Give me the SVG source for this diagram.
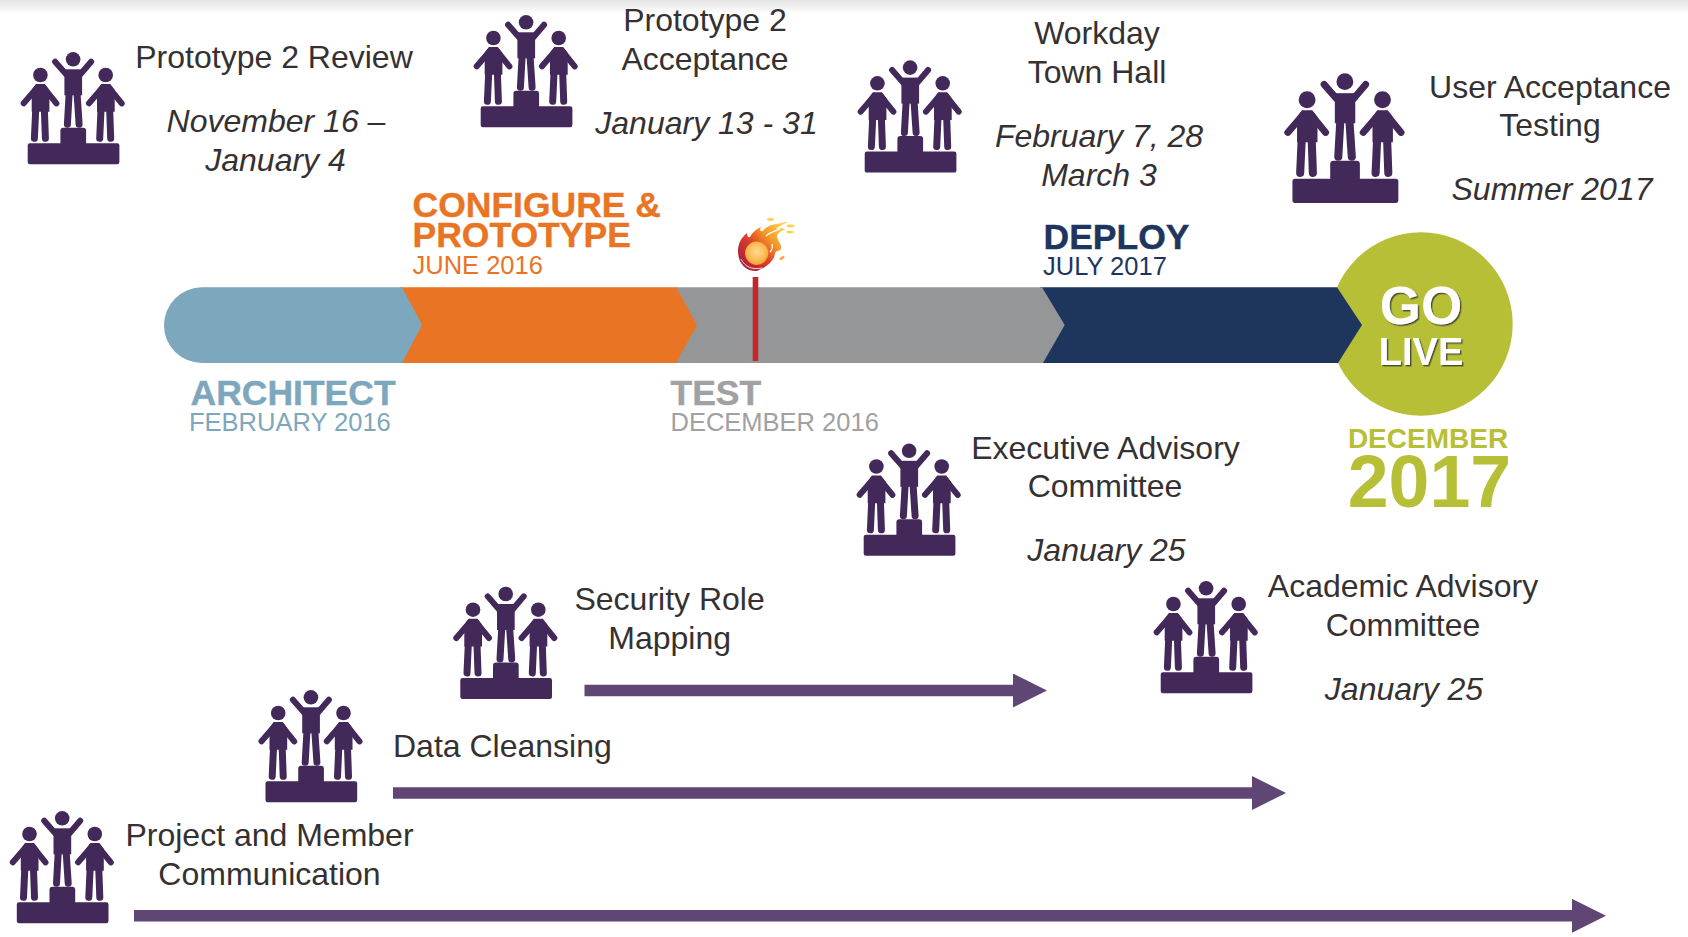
<svg xmlns="http://www.w3.org/2000/svg" width="1688" height="937" viewBox="0 0 1688 937">
<style>
text{font-family:"Liberation Sans",Arial,sans-serif}
.t{font-size:32px;fill:#353132;text-anchor:middle}
.i{font-style:italic}
.s{text-anchor:start}
.h{font-size:35.5px;font-weight:bold;stroke-width:.4px}
.d{font-size:25.5px}
.ic{fill:#43295a}
.ic line{stroke:#43295a;stroke-linecap:round;fill:none}
.go{fill:#fff;font-weight:bold;text-anchor:middle;filter:url(#sh)}
.ar{stroke:#5f4675;stroke-width:11.5;fill:none;marker-end:url(#head)}
</style>
<defs>
<linearGradient id="top" x1="0" y1="0" x2="0" y2="1"><stop offset="0" stop-color="#e4e4e4"/><stop offset="1" stop-color="#fff"/></linearGradient>
<linearGradient id="fl" x1="0.05" y1="0.9" x2="0.95" y2="0.1"><stop offset="0" stop-color="#a51b40"/><stop offset=".4" stop-color="#dc3f2a"/><stop offset=".65" stop-color="#f39325"/><stop offset="1" stop-color="#fcd64f"/></linearGradient>
<radialGradient id="ball" cx=".5" cy=".45" r=".55"><stop offset="0" stop-color="#ffdc90"/><stop offset=".7" stop-color="#fbb94f"/><stop offset="1" stop-color="#f29a2e"/></radialGradient>
<filter id="sh" x="-10%" y="-10%" width="125%" height="125%"><feDropShadow dx="1.4" dy="1.4" stdDeviation=".3" flood-color="#4d4d30"/></filter>
<marker id="head" markerUnits="userSpaceOnUse" markerWidth="34" markerHeight="34" viewBox="0 0 34 34" refX="0" refY="17" orient="auto"><path d="M0 0L34 17L0 34Z" fill="#5f4675"/></marker>
<g id="award" class="ic">
<rect x="7.3" y="91.3" width="91.7" height="21" rx="2.2"/>
<rect x="40" y="75.7" width="25.7" height="18" rx="3"/>
<circle cx="52.7" cy="7.3" r="7.3"/><circle cx="20" cy="23" r="7.3"/><circle cx="85.3" cy="23" r="7.3"/>
<g stroke-width="6">
<line x1="34.7" y1="9.7" x2="45.7" y2="22.3"/><line x1="70.7" y1="9.7" x2="60" y2="22.3"/>
<line x1="16.7" y1="35.7" x2="3.3" y2="51.3"/><line x1="23.3" y1="35.7" x2="36" y2="51.3"/>
<line x1="82" y1="35.7" x2="68.6" y2="51.3"/><line x1="88.6" y1="35.7" x2="101.3" y2="51.3"/>
</g>
<g stroke-width="7">
<line x1="48.7" y1="42" x2="47" y2="72.3"/><line x1="56.7" y1="42" x2="58.7" y2="72.3"/>
<line x1="15.3" y1="58" x2="14" y2="86.3"/><line x1="24" y1="58" x2="25" y2="86.3"/>
<line x1="80.6" y1="58" x2="79.3" y2="86.3"/><line x1="89.3" y1="58" x2="90.3" y2="86.3"/>
</g>
<path d="M44 17.3H61.7V43.3H44Z"/>
<path d="M15.5 32H24.5L29 38V59.7H11.3V38Z"/>
<path d="M80.8 32H89.8L94.3 38V59.7H76.6V38Z"/>
</g>
</defs>
<rect width="1688" height="14" fill="url(#top)"/>
<g id="timeline">
<circle cx="1421" cy="324" r="91.7" fill="#b7bf36"/>
<path id="phase-deploy" d="M1040 287.3H1337L1362 325L1338 363H1040Z" fill="#1e355e"/>
<path id="phase-test" d="M675 287.3H1042L1064.7 325L1043 363H675Z" fill="#959698"/>
<path id="phase-configure" d="M400 287.3H676L697 325L676 363H400Z" fill="#e97524"/>
<path id="phase-architect" d="M202 287.3H402L422 325L402 363H202A38 37.85 0 0 1 202 287.3Z" fill="#7da7bc"/>
<rect id="marker-line" x="752.7" y="277" width="5.6" height="84" fill="#c1272d"/>
<g id="fireball">
<path d="M757 271C745 271.5 738 263 738 251C738 243 742 237 747 233C747 236 748 238 750 237C752 233 756 229 761 227C759 231 761 232 763 231C766 227 770 225 776 224C782 223 785 222 788 221.5C784 225 778 226 776 229C780 228 783 228 786 229C781 231 777 233 777 237C779 243 782 245 781 249C778 252 777 250 775 253C775 258 770 266 757 271Z" fill="url(#fl)"/>
<path d="M741 259C745 267 752 270 762 268" stroke="#f7d9c9" stroke-width="1" fill="none"/>
<path d="M766 236C770 232 775 231 780 229M772 244C773 248 772 250 770 252" stroke="#fff" stroke-width="1.3" fill="none"/>
<circle cx="756.7" cy="253.2" r="11.7" fill="url(#ball)"/>
<ellipse cx="770.5" cy="219.5" rx="3.5" ry="1.4" fill="#fbd24e"/>
<ellipse cx="790.5" cy="226" rx="4" ry="1.4" fill="#fbd24e"/>
<ellipse cx="790" cy="232" rx="3.5" ry="1.3" fill="#fbd24e"/>
<ellipse cx="782" cy="258" rx="3" ry="1.3" fill="#f4a43a" transform="rotate(-30 782 258)"/>
</g>
</g>
<g id="phase-labels">
<g fill="#e97524"><text class="h" x="412.5" y="217.3" stroke="#e97524">CONFIGURE &amp;</text><text class="h" x="412.5" y="247.3" stroke="#e97524">PROTOTYPE</text><text class="d" x="412.5" y="274">JUNE 2016</text></g>
<g fill="#1e355e"><text class="h" x="1043.5" y="249" stroke="#1e355e">DEPLOY</text><text class="d" x="1043" y="275">JULY 2017</text></g>
<g fill="#7da7bc"><text class="h" x="190.5" y="405" stroke="#7da7bc">ARCHITECT</text><text class="d" x="189" y="430.5">FEBRUARY 2016</text></g>
<g fill="#a0a1a2"><text class="h" x="670.5" y="405" stroke="#a0a1a2">TEST</text><text class="d" x="670.5" y="430.5">DECEMBER 2016</text></g>
<text class="go" x="1421" y="324" font-size="53">GO</text>
<text class="go" x="1421" y="364.5" font-size="38">LIVE</text>
<g fill="#b7bf36" font-weight="bold" text-anchor="middle"><text x="1428" y="447.5" font-size="28">DECEMBER</text><text x="1429.5" y="506.5" font-size="73.5">2017</text></g>
</g>
<g id="connectors">
<line class="ar" x1="584.5" y1="690.5" x2="1013" y2="690.5"/>
<line class="ar" x1="393" y1="793" x2="1252" y2="793"/>
<line class="ar" x1="134" y1="915.8" x2="1572" y2="915.8"/>
</g>
<g id="node-review"><use href="#award" x="20.4" y="52"/><text class="t" x="274" y="68.4">Prototype 2 Review</text><text class="t i" x="276" y="131.9">November 16 –</text><text class="t i" x="275.5" y="170.5">January 4</text></g>
<g id="node-acceptance"><use href="#award" x="473.4" y="15"/><text class="t" x="705" y="30.8">Prototype 2</text><text class="t" x="705" y="69.5">Acceptance</text><text class="t i" x="706.5" y="134">January 13 - 31</text></g>
<g id="node-townhall"><use href="#award" x="857.4" y="60.3"/><text class="t" x="1097" y="43.7">Workday</text><text class="t" x="1097" y="83">Town Hall</text><text class="t i" x="1099" y="147">February 7, 28</text><text class="t i" x="1099" y="185.5">March 3</text></g>
<g id="node-uat"><use href="#award" transform="translate(1284 73.2) scale(1.155)"/><text class="t" x="1550" y="97.5">User Acceptance</text><text class="t" x="1550" y="136">Testing</text><text class="t i" x="1552" y="200">Summer 2017</text></g>
<g id="node-executive"><use href="#award" x="856.4" y="443.5"/><text class="t" x="1105.5" y="459">Executive Advisory</text><text class="t" x="1105" y="496.8">Committee</text><text class="t i" x="1106.5" y="561.4">January 25</text></g>
<g id="node-academic"><use href="#award" x="1153.4" y="581"/><text class="t" x="1403" y="597">Academic Advisory</text><text class="t" x="1403" y="635.7">Committee</text><text class="t i" x="1404" y="700">January 25</text></g>
<g id="node-security"><use href="#award" x="453" y="586.7"/><text class="t" x="669.6" y="610">Security Role</text><text class="t" x="669.6" y="648.6">Mapping</text></g>
<g id="node-data"><use href="#award" x="258.2" y="690"/><text class="t s" x="393" y="757.3">Data Cleansing</text></g>
<g id="node-project"><use href="#award" x="9.5" y="811"/><text class="t" x="269.5" y="845.6">Project and Member</text><text class="t" x="269.5" y="885.4">Communication</text></g>
</svg>
